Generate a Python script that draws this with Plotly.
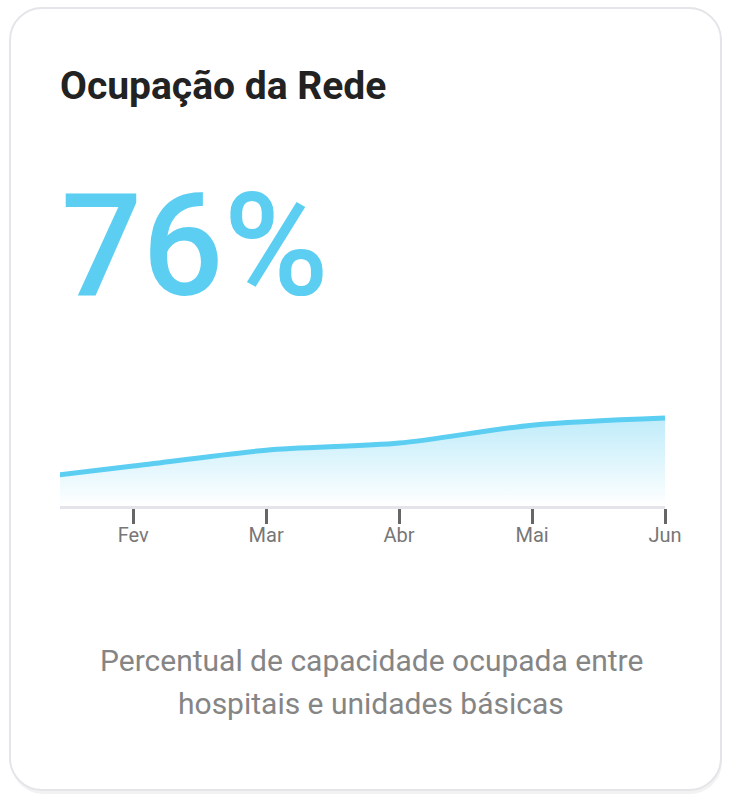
import plotly.graph_objects as go

W, H = 741, 804
# the page renders the figure about 724 px wide; positions are laid out for that width
W_EFF = 724

# ---- data ----
months = ["Jan", "Fev", "Mar", "Abr", "Mai", "Jun"]
occupancy = [57.1, 61.8, 66.5, 68.6, 73.9, 76.0]
tick_months = ["Fev", "Mar", "Abr", "Mai", "Jun"]
headline = "76%"
title_text = "Ocupação da Rede"
subtitle_lines = ["Percentual de capacidade ocupada entre", "hospitais e unidades básicas"]

ACCENT = "#5bcef2"


def px(x):
    return x / W_EFF


def py(y):
    return 1 - y / H


def rounded_rect(x0, y0, x1, y1, r):
    k = 0.45
    pts = []
    pts.append(f"M {px(x0 + r)} {py(y0)}")
    pts.append(f"L {px(x1 - r)} {py(y0)}")
    pts.append(f"C {px(x1 - r * k)} {py(y0)} {px(x1)} {py(y0 + r * k)} {px(x1)} {py(y0 + r)}")
    pts.append(f"L {px(x1)} {py(y1 - r)}")
    pts.append(f"C {px(x1)} {py(y1 - r * k)} {px(x1 - r * k)} {py(y1)} {px(x1 - r)} {py(y1)}")
    pts.append(f"L {px(x0 + r)} {py(y1)}")
    pts.append(f"C {px(x0 + r * k)} {py(y1)} {px(x0)} {py(y1 - r * k)} {px(x0)} {py(y1 - r)}")
    pts.append(f"L {px(x0)} {py(y0 + r)}")
    pts.append(f"C {px(x0)} {py(y0 + r * k)} {px(x0 + r * k)} {py(y0)} {px(x0 + r)} {py(y0)}")
    pts.append("Z")
    return " ".join(pts)


x_idx = list(range(len(months)))
tick_idx = [months.index(m) for m in tick_months]

fig = go.Figure()
fig.add_trace(go.Scatter(
    x=x_idx,
    y=occupancy,
    mode="lines",
    line=dict(color=ACCENT, width=5, shape="spline", smoothing=0.8),
    fill="tozeroy",
    fillgradient=dict(
        type="vertical",
        start=50,
        stop=78,
        colorscale=[[0, "rgba(91,206,242,0.0)"], [1, "rgba(91,206,242,0.42)"]],
    ),
    hoverinfo="skip",
    showlegend=False,
))

shapes = [
    dict(type="path", path=rounded_rect(11, 11, 722, 794, 32), xref="paper", yref="paper",
         fillcolor="rgba(0,0,0,0.05)", line=dict(width=0), layer="below"),
    dict(type="path", path=rounded_rect(10, 8, 721, 790, 32), xref="paper", yref="paper",
         fillcolor="white", line=dict(color="#e4e4e9", width=2), layer="below"),
]

annotations = [
    dict(text=f"<b>{title_text}</b>", x=px(58), y=py(86), xref="paper", yref="paper",
         xanchor="left", yanchor="middle", showarrow=False,
         font=dict(family="Roboto", size=39, color="#222222")),
    dict(text=headline, x=px(59), y=py(246), xref="paper", yref="paper",
         xanchor="left", yanchor="middle", showarrow=False,
         font=dict(family="Roboto", size=143, color=ACCENT, weight=500)),
    dict(text=subtitle_lines[0], x=px(371), y=py(660), xref="paper", yref="paper",
         xanchor="center", yanchor="middle", showarrow=False,
         font=dict(family="Roboto", size=30, color="#858585")),
    dict(text=subtitle_lines[1], x=px(371), y=py(703), xref="paper", yref="paper",
         xanchor="center", yanchor="middle", showarrow=False,
         font=dict(family="Roboto", size=30, color="#858585")),
]

fig.update_layout(
    width=W, height=H,
    margin=dict(l=0, r=0, t=0, b=0, pad=0),
    paper_bgcolor="white",
    plot_bgcolor="rgba(0,0,0,0)",
    shapes=shapes,
    annotations=annotations,
    xaxis=dict(
        domain=[px(60), px(665)],
        range=[0.45, 5],
        tickmode="array",
        tickvals=tick_idx,
        ticktext=tick_months,
        showgrid=False, zeroline=False,
        showline=True, linecolor="#e4e4ea", linewidth=3,
        ticks="outside", ticklen=15, tickwidth=2.5, tickcolor="#666666",
        ticklabelstandoff=-6,
        tickfont=dict(family="Roboto", size=20, color="#777777"),
        fixedrange=True,
    ),
    yaxis=dict(
        domain=[py(506), py(404.5)],
        range=[50, 80],
        visible=False,
        fixedrange=True,
    ),
)

fig.write_html("out.html", config={"displayModeBar": False})
